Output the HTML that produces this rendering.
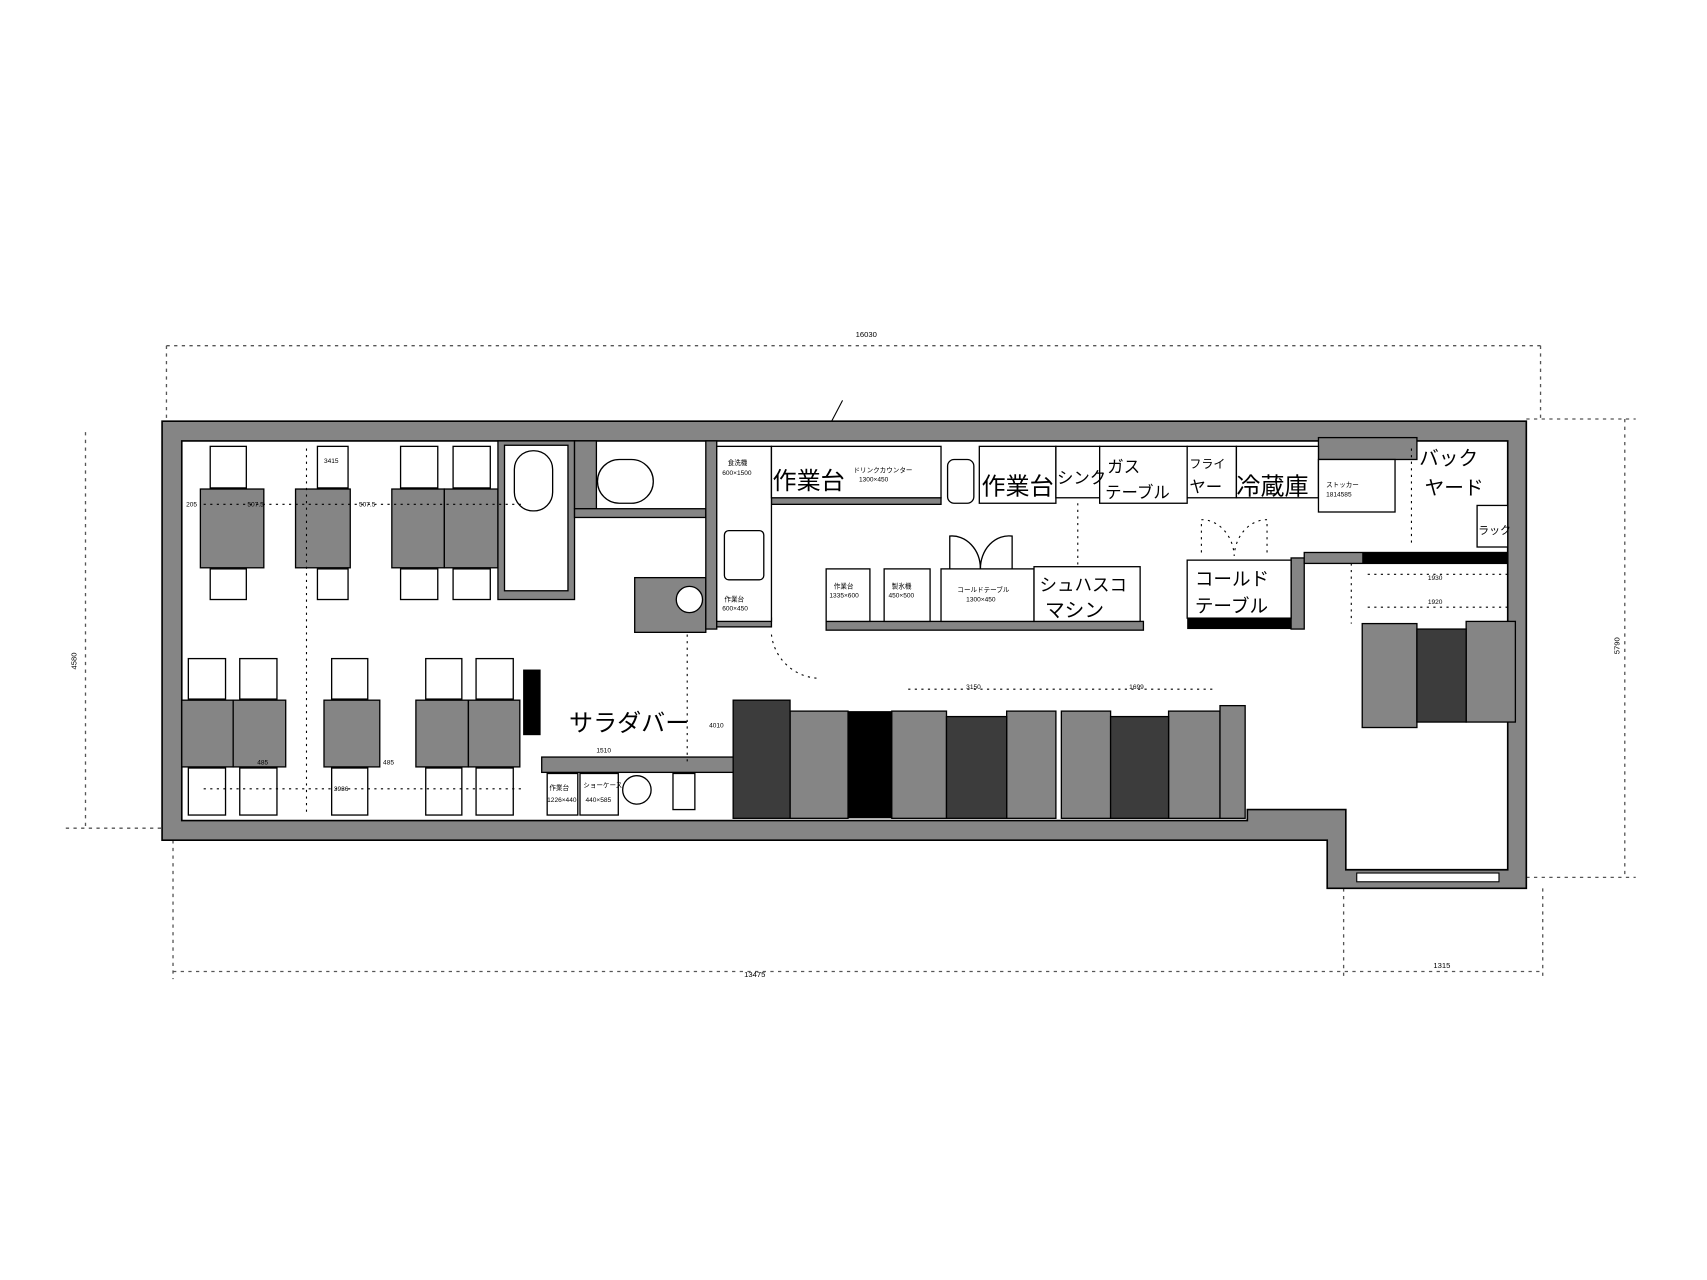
<!DOCTYPE html>
<html><head><meta charset="utf-8"><style>
html,body{margin:0;padding:0;background:#fff;}
svg{display:block;}
text{font-family:"Liberation Sans","Noto Sans CJK JP",sans-serif;fill:#000;}
.hw{font-family:"Noto Sans CJK JP",sans-serif;}
</style></head><body>
<svg width="1707" height="1280" viewBox="0 0 1560 1170" xmlns="http://www.w3.org/2000/svg">
<rect width="1560" height="1170" fill="#fff"/>
<g stroke="#555" stroke-width="1.2" stroke-dasharray="3 4" fill="none">
<line x1="152" y1="316" x2="1408" y2="316"/>
<line x1="78" y1="395" x2="78" y2="757"/>
<line x1="1485" y1="383" x2="1485" y2="802"/>
<line x1="158" y1="888" x2="1410" y2="888"/>
<line x1="152" y1="316" x2="152" y2="385"/>
<line x1="1408" y1="316" x2="1408" y2="385"/>
<line x1="158" y1="768" x2="158" y2="895"/>
<line x1="1228" y1="812" x2="1228" y2="895"/>
<line x1="1410" y1="812" x2="1410" y2="895"/>
<line x1="60" y1="757" x2="148" y2="757"/>
<line x1="1395" y1="802" x2="1495" y2="802"/>
<line x1="1395" y1="383" x2="1495" y2="383"/>
</g>
<text x="782" y="308" font-size="7">16030</text>
<text x="680" y="893" font-size="7">13475</text>
<text x="1310" y="885" font-size="7">1315</text>
<text x="70" y="612" font-size="7" transform="rotate(-90 70 612)">4580</text>
<text x="1480" y="598" font-size="7" transform="rotate(-90 1480 598)">5790</text>
<line x1="760" y1="385" x2="770" y2="366" stroke="#000"/>

<path d="M148,385 H1395 V812 H1213 V768 H148 Z M166,403 V750 H1140 V740 H1230 V795 H1378 V403 Z" fill-rule="evenodd" fill="#858585" stroke="#000" stroke-width="1.5"/>
<rect x="1240" y="798" width="130" height="8" fill="#fff" stroke="#000"/>

<g fill="#858585" stroke="#000" stroke-width="1.2">
<rect x="183" y="447" width="58" height="72"/>
<rect x="270" y="447" width="50" height="72"/>
<rect x="358" y="447" width="48" height="72"/>
<rect x="406" y="447" width="49" height="72"/>
<rect x="166" y="640" width="47" height="61"/>
<rect x="213" y="640" width="48" height="61"/>
<rect x="296" y="640" width="51" height="61"/>
<rect x="380" y="640" width="48" height="61"/>
<rect x="428" y="640" width="47" height="61"/>
<rect x="455" y="403" width="70" height="145"/>
<rect x="525" y="403" width="20" height="62"/>
<rect x="525" y="465" width="120" height="8"/>
<rect x="580" y="528" width="65" height="50"/>
<rect x="645" y="403" width="10" height="172"/>
<rect x="655" y="565" width="50" height="8"/>
<rect x="705" y="455" width="155" height="6"/>
<rect x="755" y="568" width="290" height="8"/>
<rect x="1180" y="510" width="12" height="65"/>
<rect x="1192" y="505" width="186" height="10"/>
<rect x="1245" y="570" width="50" height="95"/>
<rect x="1340" y="568" width="45" height="92"/>
<rect x="722" y="650" width="53" height="98"/>
<rect x="815" y="650" width="50" height="98"/>
<rect x="920" y="650" width="45" height="98"/>
<rect x="970" y="650" width="45" height="98"/>
<rect x="1068" y="650" width="47" height="98"/>
<rect x="1115" y="645" width="23" height="103"/>
<rect x="495" y="692" width="175" height="14"/>
<rect x="1205" y="400" width="90" height="20"/>
</g>
<g fill="#3c3c3c" stroke="#000" stroke-width="1.2">
<rect x="1295" y="575" width="45" height="85"/>
<rect x="670" y="640" width="52" height="108"/>
<rect x="865" y="655" width="55" height="93"/>
<rect x="1015" y="655" width="53" height="93"/>
</g>
<g fill="#000">
<rect x="775" y="650" width="40" height="98"/>
<rect x="478" y="612" width="16" height="60"/>
<rect x="1085" y="565" width="95" height="10"/>
<rect x="1245" y="505" width="133" height="10"/>
</g>

<g fill="#fff" stroke="#000" stroke-width="1.2">
<rect x="192" y="408" width="33" height="38"/><rect x="290" y="408" width="28" height="38"/>
<rect x="366" y="408" width="34" height="38"/><rect x="414" y="408" width="34" height="38"/>
<rect x="192" y="520" width="33" height="28"/><rect x="290" y="520" width="28" height="28"/>
<rect x="366" y="520" width="34" height="28"/><rect x="414" y="520" width="34" height="28"/>
<rect x="172" y="602" width="34" height="37"/><rect x="219" y="602" width="34" height="37"/>
<rect x="303" y="602" width="33" height="37"/><rect x="389" y="602" width="33" height="37"/><rect x="435" y="602" width="34" height="37"/>
<rect x="172" y="702" width="34" height="43"/><rect x="219" y="702" width="34" height="43"/>
<rect x="303" y="702" width="33" height="43"/><rect x="389" y="702" width="33" height="43"/><rect x="435" y="702" width="34" height="43"/>
<rect x="461" y="407" width="58" height="133"/>
<rect x="470" y="412" width="35" height="55" rx="17"/>
<rect x="546" y="420" width="51" height="40" rx="20"/>
<circle cx="630" cy="548" r="12"/>
<rect x="655" y="408" width="50" height="160"/>
<rect x="662" y="485" width="36" height="45" rx="4"/>
<rect x="705" y="408" width="155" height="47"/>
<rect x="866" y="420" width="24" height="40" rx="6"/>
<rect x="895" y="408" width="70" height="52"/>
<rect x="965" y="408" width="40" height="47"/>
<rect x="1005" y="408" width="80" height="52"/>
<rect x="1085" y="408" width="45" height="47"/>
<rect x="1130" y="408" width="75" height="47"/>
<rect x="1205" y="420" width="70" height="48"/>
<rect x="1350" y="462" width="28" height="38"/>
<rect x="755" y="520" width="40" height="48"/>
<rect x="808" y="520" width="42" height="48"/>
<rect x="860" y="520" width="85" height="48"/>
<rect x="945" y="518" width="97" height="50"/>
<rect x="1085" y="512" width="95" height="53"/>
<rect x="500" y="707" width="28" height="38"/>
<rect x="530" y="707" width="35" height="38"/>
<circle cx="582" cy="722" r="13"/>
<rect x="615" y="707" width="20" height="33"/>
</g>
<g fill="none" stroke="#000" stroke-width="1.2">
<path d="M868,520 V490 A26,30 0 0 1 896,520"/>
<path d="M925,520 V490 A26,30 0 0 0 896,520"/>
</g>
<g fill="none" stroke="#000" stroke-width="1" stroke-dasharray="2 4">
<path d="M1098,505 V475 A30,35 0 0 1 1128,508"/>
<path d="M1158,505 V475 A30,35 0 0 0 1128,508"/>
<path d="M705,580 A45,45 0 0 0 750,620"/>
<line x1="186" y1="461" x2="476" y2="461"/>
<line x1="186" y1="721" x2="476" y2="721"/>
<line x1="280" y1="410" x2="280" y2="745"/>
<line x1="830" y1="630" x2="1110" y2="630"/>
<line x1="628" y1="580" x2="628" y2="700"/>
<line x1="1250" y1="525" x2="1378" y2="525"/>
<line x1="1250" y1="555" x2="1378" y2="555"/>
<line x1="1235" y1="515" x2="1235" y2="570"/>
<line x1="1290" y1="410" x2="1290" y2="500"/>
<line x1="985" y1="460" x2="985" y2="518"/>
</g>
<g class="hw">
<text x="706" y="447" font-size="22">作業台</text>
<text x="897" y="452" font-size="22">作業台</text>
<text x="966" y="442" font-size="15">シンク</text>
<text x="1012" y="432" font-size="15">ガス</text>
<text x="1010" y="455" font-size="15">テーブル</text>
<text x="1087" y="428" font-size="11">フライ</text>
<text x="1087" y="450" font-size="15">ヤー</text>
<text x="1130" y="452" font-size="22">冷蔵庫</text>
<text x="1297" y="425" font-size="18">バック</text>
<text x="1302" y="452" font-size="18">ヤード</text>
<text x="1351" y="488" font-size="10">ラック</text>
<text x="950" y="540" font-size="16">シュハスコ</text>
<text x="955" y="564" font-size="18">マシン</text>
<text x="1092" y="535" font-size="17">コールド</text>
<text x="1092" y="560" font-size="17">テーブル</text>
<text x="520" y="668" font-size="22">サラダバー</text>
</g>
<g font-size="6">
<text x="665" y="425">食洗機</text><text x="660" y="434">600×1500</text>
<text x="662" y="550">作業台</text><text x="660" y="558">600×450</text>
<text x="780" y="432">ドリンクカウンター</text><text x="785" y="440">1300×450</text>
<text x="1212" y="445">ストッカー</text><text x="1212" y="454">1814585</text>
<text x="762" y="538">作業台</text><text x="758" y="546">1335×600</text>
<text x="815" y="538">製氷機</text><text x="812" y="546">450×500</text>
<text x="875" y="541">コールドテーブル</text><text x="883" y="550">1300×450</text>
<text x="502" y="722">作業台</text><text x="500" y="733">1226×440</text>
<text x="533" y="720">ショーケース</text><text x="535" y="733">440×585</text>
<text x="545" y="688">1510</text><text x="648" y="665">4010</text>
<text x="226" y="463">507.5</text><text x="328" y="463">507.5</text><text x="170" y="463">205</text>
<text x="296" y="423">3415</text><text x="305" y="723">3936</text>
<text x="235" y="699">485</text><text x="350" y="699">485</text>
<text x="1305" y="530">1930</text><text x="1305" y="552">1920</text>
<text x="883" y="630">3150</text><text x="1032" y="630">1699</text>
</g>
</svg>
</body></html>
